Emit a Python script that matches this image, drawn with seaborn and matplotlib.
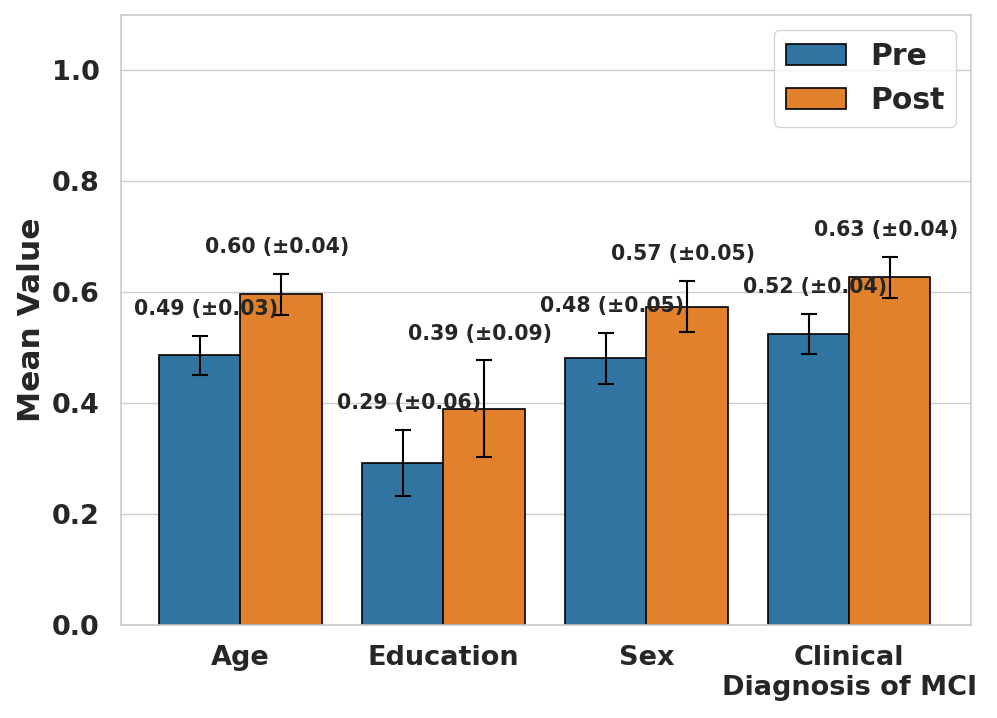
import matplotlib
matplotlib.use("Agg")
import matplotlib.pyplot as plt
import seaborn as sns
import pandas as pd

# Values
features = ["Age", "Education", "Sex", "Clinical\nDiagnosis of MCI"]
phases = ["Pre", "Post"]
pre_mean = [0.486, 0.292, 0.481, 0.525]
post_mean = [0.596, 0.390, 0.574, 0.627]
pre_err = [0.035, 0.060, 0.046, 0.036]
post_err = [0.037, 0.087, 0.046, 0.037]
pre_labels = ["0.49 (±0.03)", "0.29 (±0.06)", "0.48 (±0.05)", "0.52 (±0.04)"]
post_labels = ["0.60 (±0.04)", "0.39 (±0.09)", "0.57 (±0.05)", "0.63 (±0.04)"]

df = pd.DataFrame({
    "Feature": features * 2,
    "Phase": ["Pre"] * len(features) + ["Post"] * len(features),
    "Mean": pre_mean + post_mean,
})

sns.set_theme(style="whitegrid")

fig, ax = plt.subplots(figsize=(9.97, 7.18), dpi=100)
fig.subplots_adjust(left=0.121, right=0.974, top=0.979, bottom=0.13)

sns.barplot(data=df, x="Feature", y="Mean", hue="Phase", hue_order=phases,
            palette="tab10", edgecolor="black", linewidth=1.2, ax=ax)

errs = [pre_err, post_err]
labels = [pre_labels, post_labels]
means = [pre_mean, post_mean]
shift = [0.03, -0.02]
for k, cont in enumerate(ax.containers[:2]):
    for i, bar in enumerate(cont):
        xc = bar.get_x() + bar.get_width() / 2
        m = means[k][i]
        e = errs[k][i]
        ax.errorbar(xc, m, yerr=e, fmt="none", ecolor="black",
                    elinewidth=1.5, capsize=6, capthick=1.5)
        ax.text(xc + shift[k], m + e + 0.03, labels[k][i], ha="center", va="bottom",
                fontsize=14.8, fontweight="bold", color="#262626")

ax.set_ylim(0, 1.1)
ax.set_xlim(-0.59, 3.6)
ax.set_yticks([0.0, 0.2, 0.4, 0.6, 0.8, 1.0])
ax.set_xlabel("")
ax.set_ylabel("Mean Value", fontsize=22.5, fontweight="bold")
ax.tick_params(axis="x", pad=8.5)
ax.tick_params(axis="y", pad=9)
for lab in ax.get_xticklabels() + ax.get_yticklabels():
    lab.set_fontweight("bold")
    lab.set_fontsize(19.5)
ax.grid(axis="x", visible=False)

leg = ax.legend(loc="upper right", prop={"size": 21.5, "weight": "bold"})
for p in leg.get_patches():
    p.set_edgecolor("black")

fig.savefig("out.png", dpi=100)
